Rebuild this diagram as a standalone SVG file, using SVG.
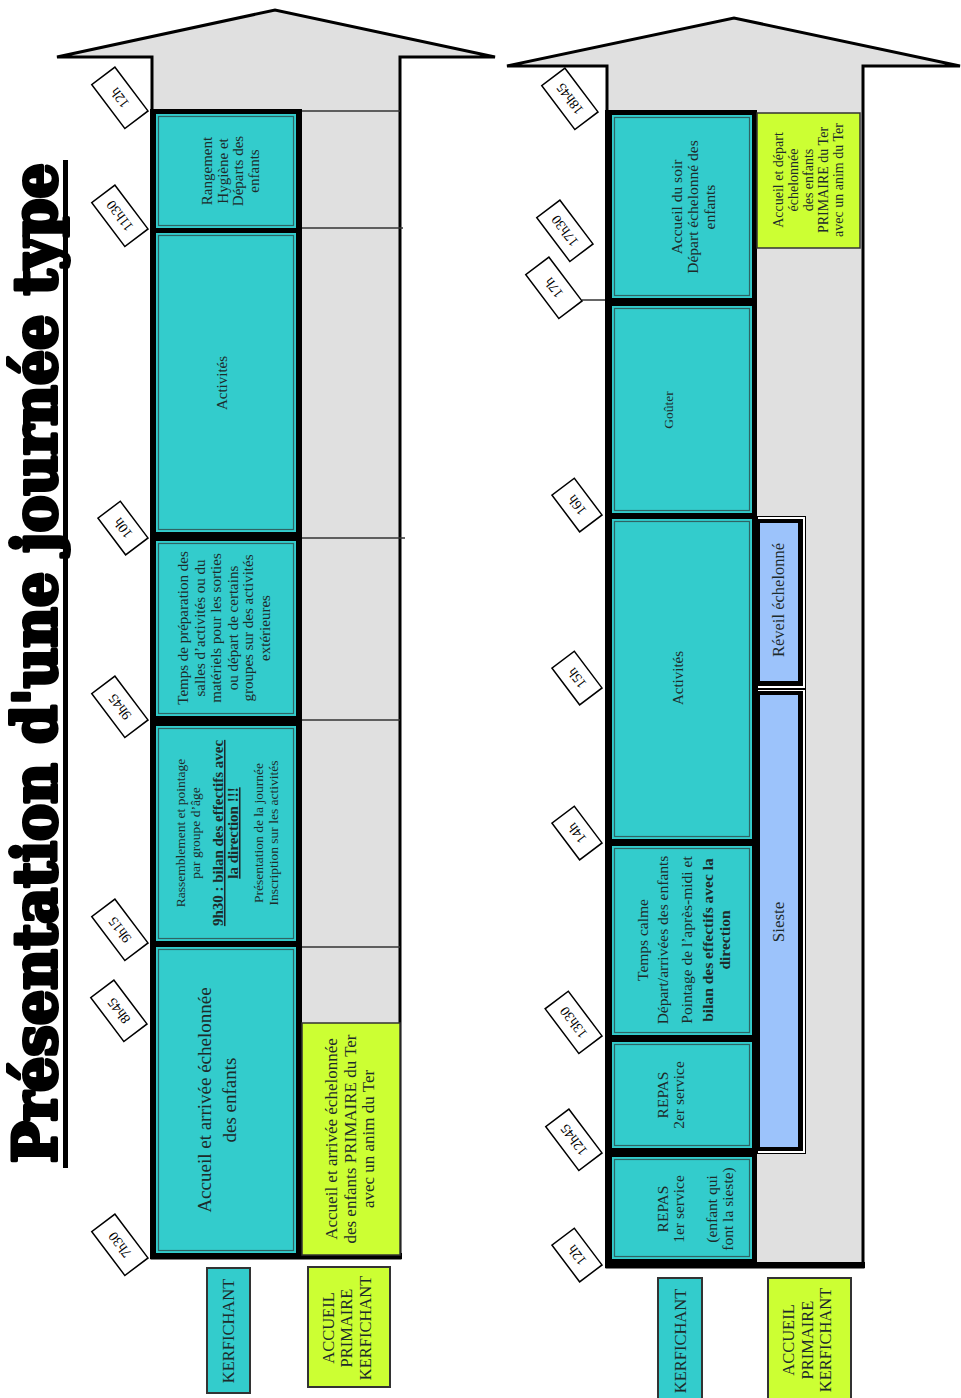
<svg xmlns="http://www.w3.org/2000/svg" width="961" height="1398" viewBox="0 0 961 1398">
<style>
  .arrow { fill: #e0e0e0; stroke: #000; stroke-width: 3; stroke-linejoin: miter; }
  .frame { fill: #000; }
  .cell { fill: #33cccc; }
  .cellin { fill: none; stroke: #2f6464; stroke-width: 1.2; }
  .yel { fill: #ccff33; stroke: #333; stroke-width: 1.5; }
  .leg-t { fill: #33cccc; stroke: #333; stroke-width: 2; }
  .leg-y { fill: #ccff33; stroke: #333; stroke-width: 2; }
  .blue { fill: #9cc3fb; }
  .tl { stroke: #333; stroke-width: 1.5; fill: none; }
  .tag rect { fill: #fff; stroke: #000; stroke-width: 1.5; }
  .tag text { font-family: "Liberation Serif", serif; font-size: 14px; fill: #000; text-anchor: middle; }
  .t { font-family: "Liberation Serif", serif; fill: #1d2b2b; text-anchor: middle; }
  .b { font-weight: bold; }
  .title { font-family: "DejaVu Serif", serif; font-weight: bold; font-size: 60px; fill: #000; stroke: #000; stroke-width: 4; stroke-linejoin: round; }
</style>

<!-- Title -->
<g id="title">
  <text class="title" transform="translate(56,1163) rotate(-90)" textLength="1000" lengthAdjust="spacingAndGlyphs">Présentation d'une journée type</text>
  <rect x="63" y="160" width="5" height="1008" fill="#000"/>
</g>

<!-- ===== Left panel (morning) ===== -->
<g id="arrow-left">
  <polygon class="arrow" points="57,57 275,10 495,57 400,57 400,1258 152,1258 152,57"/>
  <rect class="frame" x="150" y="109" width="152" height="1150"/>
  <rect class="frame" x="150" y="1253" width="252" height="6"/>
</g>

<g id="timelines">
  <line class="tl" x1="302" y1="111" x2="400" y2="111"/>
  <line class="tl" x1="302" y1="228" x2="403" y2="228"/>
  <line class="tl" x1="302" y1="538" x2="405" y2="538"/>
  <line class="tl" x1="302" y1="720" x2="400" y2="720"/>
  <line class="tl" x1="302" y1="947" x2="400" y2="947"/>
  <line class="tl" x1="757" y1="111" x2="863" y2="111"/>
  <line class="tl" x1="582" y1="300" x2="863" y2="300"/>
</g>

<g id="l-rangement">
  <rect class="cell" x="156" y="114" width="140" height="114"/>
  <rect class="cellin" x="158.5" y="116.5" width="135" height="109"/>
  <text class="t" font-size="15" transform="translate(0,171) rotate(-90)"><tspan x="0" y="212">Rangement</tspan><tspan x="0" y="228">Hygiène et</tspan><tspan x="0" y="243">Départs des</tspan><tspan x="0" y="259">enfants</tspan></text>
</g>

<g id="l-activites">
  <rect class="cell" x="156" y="233" width="140" height="299"/>
  <rect class="cellin" x="158.5" y="235.5" width="135" height="294"/>
  <text class="t" font-size="15" transform="translate(0,383) rotate(-90)"><tspan x="0" y="227">Activités</tspan></text>
</g>

<g id="l-temps">
  <rect class="cell" x="156" y="541" width="140" height="175"/>
  <rect class="cellin" x="158.5" y="543.5" width="135" height="170"/>
  <text class="t" font-size="15" transform="translate(0,628) rotate(-90)"><tspan x="0" y="188">Temps de préparation des</tspan><tspan x="0" y="205">salles d’activités ou du</tspan><tspan x="0" y="221">matériels pour les sorties</tspan><tspan x="0" y="238">ou départ de certains</tspan><tspan x="0" y="253">groupes sur des activités</tspan><tspan x="0" y="270">extérieures</tspan></text>
</g>

<g id="l-rassemblement">
  <rect class="cell" x="156" y="726" width="140" height="215"/>
  <rect class="cellin" x="158.5" y="728.5" width="135" height="210"/>
  <text class="t" font-size="13.5" transform="translate(0,833) rotate(-90)"><tspan x="0" y="184.5">Rassemblement et pointage</tspan><tspan x="0" y="199.5">par groupe d’âge</tspan><tspan x="0" y="223" class="b" font-size="15" text-decoration="underline">9h30 : bilan des effectifs avec</tspan><tspan x="0" y="238" class="b" font-size="15" text-decoration="underline">la direction !!!</tspan><tspan x="0" y="262.5">Présentation de la journée</tspan><tspan x="0" y="277.5">Inscription sur les activités</tspan></text>
</g>

<g id="l-accueil">
  <rect class="cell" x="156" y="947" width="140" height="306"/>
  <rect class="cellin" x="158.5" y="949.5" width="135" height="301"/>
  <text class="t" font-size="19" transform="translate(0,1100) rotate(-90)"><tspan x="0" y="211">Accueil et arrivée échelonnée</tspan><tspan x="0" y="236">des enfants</tspan></text>
</g>

<g id="l-primaire">
  <rect class="yel" x="302" y="1023" width="98" height="232"/>
  <text class="t" font-size="17" transform="translate(0,1139) rotate(-90)"><tspan x="0" y="337">Accueil et arrivée échelonnée</tspan><tspan x="0" y="355.5">des enfants PRIMAIRE du Ter</tspan><tspan x="0" y="374">avec un anim du Ter</tspan></text>
</g>

<!-- time tags left -->
<g id="tags-left">
  <g class="tag" transform="translate(148,111) rotate(-127)"><rect x="0" y="-29" width="55" height="29"/><text x="27.5" y="-10">12h</text></g>
  <g class="tag" transform="translate(148,229) rotate(-127)"><rect x="0" y="-29" width="55" height="29"/><text x="27.5" y="-10">11h30</text></g>
  <g class="tag" transform="translate(148,538) rotate(-127)"><rect x="0" y="-28" width="46" height="28"/><text x="23" y="-9.5">10h</text></g>
  <g class="tag" transform="translate(148,720) rotate(-127)"><rect x="0" y="-29" width="55" height="29"/><text x="27.5" y="-10">9h45</text></g>
  <g class="tag" transform="translate(148,943) rotate(-127)"><rect x="0" y="-29" width="55" height="29"/><text x="27.5" y="-10">9h15</text></g>
  <g class="tag" transform="translate(147,1024) rotate(-127)"><rect x="0" y="-29" width="55" height="29"/><text x="27.5" y="-10">8h45</text></g>
  <g class="tag" transform="translate(148,1258) rotate(-127)"><rect x="0" y="-29" width="55" height="29"/><text x="27.5" y="-10">7h30</text></g>
</g>

<!-- legend left -->
<g id="leg-left-kerf">
  <rect class="leg-t" x="207" y="1268" width="43" height="125"/>
  <text class="t" font-size="16.5" transform="translate(0,1331) rotate(-90)"><tspan x="0" y="233.5">KERFICHANT</tspan></text>
</g>
<g id="leg-left-prim">
  <rect class="leg-y" x="308" y="1267" width="82" height="120"/>
  <text class="t" font-size="16.5" transform="translate(0,1328) rotate(-90)"><tspan x="0" y="333.5">ACCUEIL</tspan><tspan x="0" y="352">PRIMAIRE</tspan><tspan x="0" y="370.5">KERFICHANT</tspan></text>
</g>

<!-- ===== Right panel (afternoon) ===== -->
<g id="arrow-right">
  <polygon class="arrow" points="507,66 734,18 960,66 863,66 863,1267 607,1267 607,66"/>
  <rect class="frame" x="605" y="110" width="152" height="1158"/>
  <rect class="frame" x="605" y="1262" width="260" height="6"/>
</g>

<g id="r-accueil-soir">
  <rect class="cell" x="612" y="115" width="140" height="183"/>
  <rect class="cellin" x="614.5" y="117.5" width="135" height="178"/>
  <text class="t" font-size="15.5" transform="translate(0,207) rotate(-90)"><tspan x="0" y="682">Accueil du soir</tspan><tspan x="0" y="698">Départ échelonné des</tspan><tspan x="0" y="715">enfants</tspan></text>
</g>

<g id="r-primaire">
  <rect class="yel" x="757" y="113" width="103" height="135"/>
  <text class="t" font-size="14" transform="translate(0,180) rotate(-90)"><tspan x="0" y="782.5">Accueil et départ</tspan><tspan x="0" y="797.5">échelonnée</tspan><tspan x="0" y="812.5">des enfants</tspan><tspan x="0" y="827.5">PRIMAIRE du Ter</tspan><tspan x="0" y="842.5">avec un anim du Ter</tspan></text>
</g>

<g id="r-gouter">
  <rect class="cell" x="612" y="306" width="140" height="207"/>
  <rect class="cellin" x="614.5" y="308.5" width="135" height="202"/>
  <text class="t" font-size="13.5" transform="translate(0,410) rotate(-90)"><tspan x="0" y="672.5">Goûter</tspan></text>
</g>

<g id="r-activites">
  <rect class="cell" x="612" y="519" width="140" height="320"/>
  <rect class="cellin" x="614.5" y="521.5" width="135" height="315"/>
  <text class="t" font-size="15" transform="translate(0,678) rotate(-90)"><tspan x="0" y="683">Activités</tspan></text>
</g>

<g id="r-calme">
  <rect class="cell" x="612" y="846" width="140" height="189"/>
  <rect class="cellin" x="614.5" y="848.5" width="135" height="184"/>
  <text class="t" font-size="15.5" transform="translate(0,940) rotate(-90)"><tspan x="0" y="648">Temps calme</tspan><tspan x="0" y="668">Départ/arrivées des enfants</tspan><tspan x="0" y="692">Pointage de l’après-midi et</tspan><tspan x="0" y="713" class="b">bilan des effectifs avec la</tspan><tspan x="0" y="730" class="b">direction</tspan></text>
</g>

<g id="r-repas2">
  <rect class="cell" x="612" y="1042" width="140" height="106"/>
  <rect class="cellin" x="614.5" y="1044.5" width="135" height="101"/>
  <text class="t" font-size="15.5" transform="translate(0,1095) rotate(-90)"><tspan x="0" y="668">REPAS</tspan><tspan x="0" y="683.5">2er service</tspan></text>
</g>

<g id="r-repas1">
  <rect class="cell" x="612" y="1157" width="140" height="102"/>
  <rect class="cellin" x="614.5" y="1159.5" width="135" height="97"/>
  <text class="t" font-size="15.5" transform="translate(0,1209) rotate(-90)"><tspan x="0" y="668">REPAS</tspan><tspan x="0" y="683.5">1er service</tspan><tspan x="0" y="717">(enfant qui</tspan><tspan x="0" y="733">font la sieste)</tspan></text>
</g>

<g id="r-reveil">
  <rect x="757.5" y="516.5" width="48" height="172" fill="#fff" stroke="#000" stroke-width="1"/>
  <rect class="frame" x="757" y="519" width="46" height="167"/>
  <rect class="blue" x="760" y="523" width="38" height="158"/>
  <text class="t" font-size="16.5" fill="#1a2a4a" transform="translate(0,600) rotate(-90)"><tspan x="0" y="783.5">Réveil échelonné</tspan></text>
</g>

<g id="r-sieste">
  <rect x="757.5" y="689.5" width="48" height="464" fill="#fff" stroke="#000" stroke-width="1"/>
  <rect class="frame" x="757" y="691" width="46" height="460"/>
  <rect class="blue" x="760" y="695" width="38" height="452"/>
  <text class="t" font-size="17" fill="#1a2a4a" transform="translate(0,922) rotate(-90)"><tspan x="0" y="783.5">Sieste</tspan></text>
</g>

<!-- time tags right -->
<g id="tags-right">
  <g class="tag" transform="translate(598,112) rotate(-127)"><rect x="0" y="-29" width="55" height="29"/><text x="27.5" y="-10">18h45</text></g>
  <g class="tag" transform="translate(593,244) rotate(-127)"><rect x="0" y="-29" width="55" height="29"/><text x="27.5" y="-10">17h30</text></g>
  <g class="tag" transform="translate(582,301) rotate(-127)"><rect x="0" y="-29" width="55" height="29"/><text x="27.5" y="-10">17h</text></g>
  <g class="tag" transform="translate(602,515) rotate(-127)"><rect x="0" y="-28" width="46" height="28"/><text x="23" y="-9.5">16h</text></g>
  <g class="tag" transform="translate(602,688) rotate(-127)"><rect x="0" y="-28" width="46" height="28"/><text x="23" y="-9.5">15h</text></g>
  <g class="tag" transform="translate(602,843) rotate(-127)"><rect x="0" y="-28" width="46" height="28"/><text x="23" y="-9.5">14h</text></g>
  <g class="tag" transform="translate(602,1036) rotate(-127)"><rect x="0" y="-29" width="56" height="29"/><text x="28" y="-10">13h30</text></g>
  <g class="tag" transform="translate(602,1153) rotate(-127)"><rect x="0" y="-29" width="55" height="29"/><text x="27.5" y="-10">12h45</text></g>
  <g class="tag" transform="translate(602,1265) rotate(-127)"><rect x="0" y="-28" width="46" height="28"/><text x="23" y="-9.5">12h</text></g>
</g>

<!-- legend right -->
<g id="leg-right-kerf">
  <rect class="leg-t" x="658" y="1278" width="44" height="125"/>
  <text class="t" font-size="16.5" transform="translate(0,1341) rotate(-90)"><tspan x="0" y="685.5">KERFICHANT</tspan></text>
</g>
<g id="leg-right-prim">
  <rect class="leg-y" x="768" y="1278" width="83" height="125"/>
  <text class="t" font-size="16.5" transform="translate(0,1340) rotate(-90)"><tspan x="0" y="793.5">ACCUEIL</tspan><tspan x="0" y="812.5">PRIMAIRE</tspan><tspan x="0" y="830.5">KERFICHANT</tspan></text>
</g>
</svg>
